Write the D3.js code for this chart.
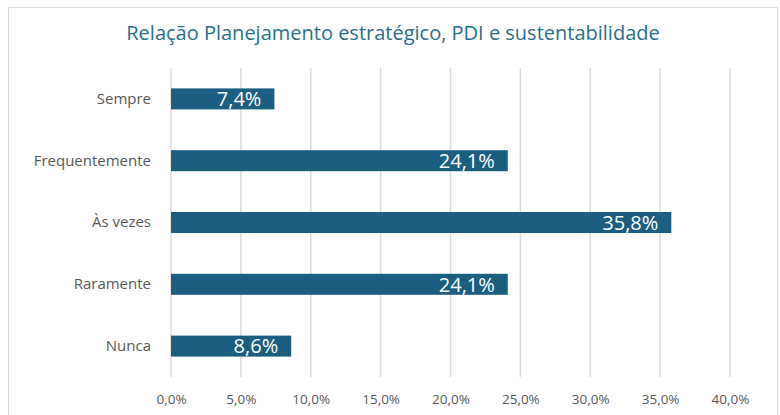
<!DOCTYPE html>
<html>
<head>
<meta charset="utf-8">
<script src="https://cdn.jsdelivr.net/npm/d3@7"></script>
<style>
  body { margin: 0; background: #fff; }
  svg { display: block; font-family: "Open Sans", "Liberation Sans", sans-serif; }
</style>
</head>
<body>
<div id="chart"></div>
<script>
// Data
const categories = ['Sempre', 'Frequentemente', 'Às vezes', 'Raramente', 'Nunca'];
const values = [7.4, 24.1, 35.8, 24.1, 8.6];
const tickValues = [0, 5, 10, 15, 20, 25, 30, 35, 40];

const width = 780;
const height = 415;
const margin = { top: 68, right: 50, bottom: 38, left: 171 };

const fmt = v => v.toFixed(1).replace('.', ',') + '%';

const svg = d3.select('#chart')
    .append('svg')
    .attr('width', width)
    .attr('height', height);

// Chart frame
svg.append('rect')
    .attr('x', 8.5)
    .attr('y', 7.5)
    .attr('width', 769)
    .attr('height', 420)
    .attr('fill', '#fff')
    .attr('stroke', '#d9d9d9');

// Title
svg.append('text')
    .attr('x', 393)
    .attr('y', 40)
    .attr('text-anchor', 'middle')
    .style('font-size', '20px')
    .style('fill', '#2a6f8e')
    .text('Relação Planejamento estratégico, PDI e sustentabilidade');

const x = d3.scaleLinear()
    .domain([0, 40])
    .range([margin.left, 730]);

const y = d3.scaleBand()
    .domain(categories)
    .range([margin.top, 377])
    .paddingInner(0.66)
    .paddingOuter(0.33);

// Gridlines
svg.append('g')
    .selectAll('line')
    .data(tickValues)
    .join('line')
    .attr('x1', d => x(d))
    .attr('x2', d => x(d))
    .attr('y1', margin.top)
    .attr('y2', 377)
    .attr('stroke', '#dcdcdc')
    .attr('stroke-width', 1.5);

// X axis labels
const xAxis = svg.append('g')
    .attr('transform', 'translate(0,377)')
    .call(d3.axisBottom(x).tickValues(tickValues).tickFormat(d => d.toFixed(1).replace('.', ',') + '%').tickSize(0).tickPadding(17));
xAxis.select('.domain').remove();
xAxis.selectAll('text')
    .style('font-size', '13.5px')
    .style('fill', '#595959')
    .style('font-family', '"Open Sans", sans-serif');

// Y axis labels
const yAxis = svg.append('g')
    .attr('transform', `translate(${margin.left},0)`)
    .call(d3.axisLeft(y).tickSize(0).tickPadding(20));
yAxis.select('.domain').remove();
yAxis.selectAll('text')
    .style('font-size', '15px')
    .style('fill', '#595959')
    .style('font-family', '"Open Sans", sans-serif');

// Bars
svg.append('g')
    .selectAll('rect')
    .data(values)
    .join('rect')
    .attr('x', x(0))
    .attr('y', (d, i) => y(categories[i]))
    .attr('width', d => x(d) - x(0))
    .attr('height', y.bandwidth())
    .attr('fill', '#1b5e80');

// Value labels
svg.append('g')
    .selectAll('text')
    .data(values)
    .join('text')
    .attr('x', d => x(d) - 13)
    .attr('y', (d, i) => y(categories[i]) + y.bandwidth() / 2)
    .attr('dy', '0.36em')
    .attr('text-anchor', 'end')
    .style('font-size', '20px')
    .style('fill', '#fff')
    .text(d => fmt(d));
</script>
</body>
</html>
